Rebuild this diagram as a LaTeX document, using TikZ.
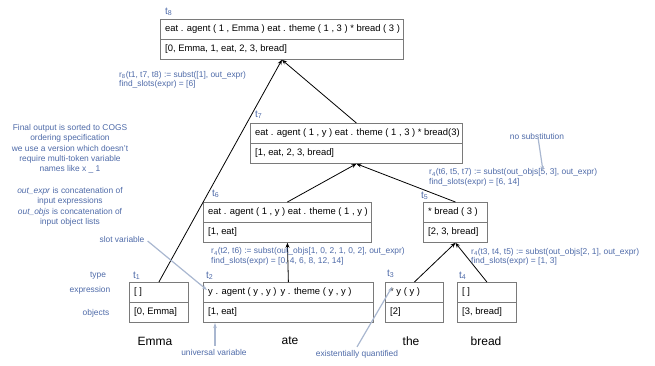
\documentclass[tikz,border=0pt]{standalone}
\usepackage{fontspec}
\setmainfont{Liberation Sans}
\usetikzlibrary{arrows.meta}
\definecolor{notecol}{HTML}{4E6AA8}
\definecolor{boxcol}{HTML}{7A7A7A}
\definecolor{pointcol}{HTML}{A9B7D0}
\tikzset{
  tbox/.style={draw=boxcol, line width=0.8pt, minimum height=40pt, inner sep=0pt, anchor=north west},
  btext/.style={anchor=west, font=\fontsize{9.4}{11}\selectfont, inner sep=0pt, text=black},
  tlab/.style={anchor=south west, text=notecol, font=\fontsize{10}{11}\selectfont, inner sep=0pt},
  note/.style={text=notecol, font=\fontsize{8.4}{10.3}\selectfont, inner sep=0pt, align=center},
  rule/.style={text=notecol, font=\fontsize{8.4}{9.6}\selectfont, inner sep=0pt, align=left, anchor=west},
  word/.style={font=\fontsize{12}{14}\selectfont, inner sep=0pt},
  arr/.style={draw=black, line width=0.8pt, -{Stealth[length=5pt,width=4pt]}},
  pointer/.style={draw=pointcol, line width=1.2pt, -{Stealth[length=5pt,width=3.5pt]}},
}
% a two-row box: name, left, top, right, expression, objects
\newcommand\twobox[6]{%
  \node[tbox, minimum width=#4pt-#2pt] (#1) at (#2,#3) {};
  \draw[boxcol, line width=0.8pt] (#1.west) -- (#1.east);
  \node[btext] (#1e) at (#2+5,#3+10) {#5};
  \node[btext] (#1o) at (#2+5,#3+30) {#6};
}
\begin{document}
\begin{tikzpicture}[x=1pt,y=-1pt]
\useasboundingbox (0,0) rectangle (655,365);

% boxes
\twobox{t8}{160}{19}{403}{eat . agent ( 1 , Emma ) eat . theme ( 1 , 3 ) * bread ( 3 )}{[0, Emma, 1, eat, 2, 3, bread]}
\twobox{t7}{250}{123}{462}{eat . agent ( 1 , y ) eat . theme ( 1 , 3 ) * bread(3)}{[1, eat, 2, 3, bread]}
\twobox{t6}{203}{202}{371}{eat . agent ( 1 , y ) eat . theme ( 1 , y )}{[1, eat]}
\twobox{t5}{423}{202}{487}{* bread ( 3 )}{[2, 3, bread]}
\twobox{t1}{129}{282}{188}{[ ]}{[0, Emma]}
\twobox{t2}{203}{282}{373}{y . agent ( y , y )\, y . theme ( y , y )}{[1, eat]}
\twobox{t3}{385}{282}{443}{* y ( y )}{[2]}
\twobox{t4}{457}{282}{516}{[ ]}{[3, bread]}

% box labels
\node[tlab] (l8) at (165,16) {t\textsubscript{8}};
\node[tlab] (l7) at (255,119) {t\textsubscript{7}};
\node[tlab] (l6) at (212,198) {t\textsubscript{6}};
\node[tlab] (l5) at (421,200) {t\textsubscript{5}};
\node[tlab] (l1) at (133,280) {t\textsubscript{1}};
\node[tlab] (l2) at (206,280) {t\textsubscript{2}};
\node[tlab] (l3) at (387,278) {t\textsubscript{3}};
\node[tlab] (l4) at (459,280) {t\textsubscript{4}};

% tree edges
\draw[arr] (t1.north) -- (t8.south);
\draw[arr] (t7.north) -- (t8.south);
\draw[arr] (t6.north) -- (t7.south);
\draw[arr] (t5.north) -- (t7.south);
\draw[arr] (t2.north) -- (t6.south);
\draw[arr] (t3.north) -- (t5.south);
\draw[arr] (t4.north) -- (t5.south);

% rule annotations
\node[rule] (r8) at (119,80) {r\textsubscript{8}(t1, t7, t8) := subst([1], out\_expr)\\find\_slots(expr) = [6]};
\node[rule] (r6) at (211,256.5) {r\textsubscript{4}(t2, t6) := subst(out\_objs[1, 0, 2, 1, 0, 2], out\_expr)\\find\_slots(expr) = [0, 4, 6, 8, 12, 14]};
\node[rule] (r7) at (429,177.5) {r\textsubscript{4}(t6, t5, t7) := subst(out\_objs[5, 3], out\_expr)\\find\_slots(expr) = [6, 14]};
\node[rule] (r5) at (471,257) {r\textsubscript{4}(t3, t4, t5) := subst(out\_objs[2, 1], out\_expr)\\find\_slots(expr) = [1, 3]};

% row headings
\node[note] (htype) at (98,276) {type};
\node[note] (hexpr) at (90,290) {expression};
\node[note] (hobj) at (96,313) {objects};

% side notes
\node[note] (n1) at (70,149) {Final output is sorted to COGS\\ordering specification\\we use a version which doesn't\\require multi-token variable\\names like x \_ 1};
\node[note] (n2) at (70,196) {\textit{out\_expr} is concatenation of\\input expressions};
\node[note] (n3) at (70,217) {\textit{out\_objs} is concatenation of\\input object lists};

% callouts
\node[note] (slot) at (122,239) {slot variable};
\node[note] (univ) at (214,352) {universal variable};
\node[note] (exist) at (357,354) {existentially quantified};
\node[note] (nosub) at (537,136) {no substitution};
\coordinate (slotend) at (207,290);
\coordinate (univend) at (215,323);
\coordinate (existend) at (392,287);
\coordinate (nosubend) at (543,171);
\draw[pointer] (slot.east) ++(3,2) -- (slotend);
\draw[pointer] (univ.north) ++(1,-3) -- (univend);
\draw[pointer] (exist.north) ++(0,-3) -- (existend);
\draw[pointer] (nosub.south) ++(1,-2) -- (nosubend);

% sentence words
\node[word] (w1) at (155,341) {Emma};
\node[word] (w2) at (290,341) {ate};
\node[word] (w3) at (411,341) {the};
\node[word] (w4) at (486,341) {bread};
\end{tikzpicture}
\end{document}
